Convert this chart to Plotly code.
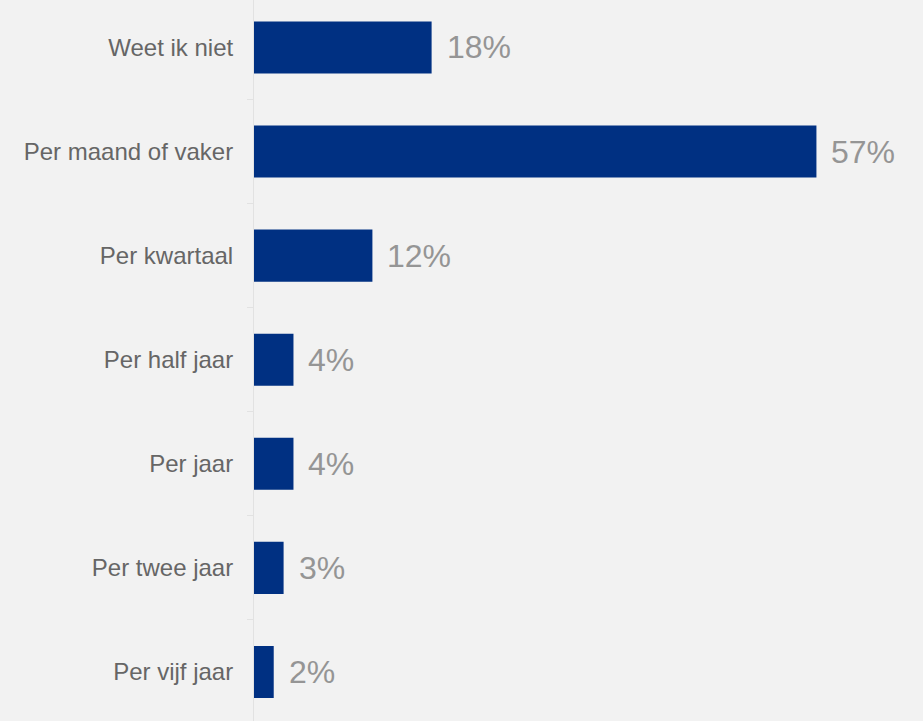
import plotly.graph_objects as go

categories = ["Weet ik niet", "Per maand of vaker", "Per kwartaal", "Per half jaar",
              "Per jaar", "Per twee jaar", "Per vijf jaar"]
values = [18, 57, 12, 4, 4, 3, 2]
value_labels = ["18%", "57%", "12%", "4%", "4%", "3%", "2%"]

BG = "#f2f2f2"
BAR = "#003082"
FONT = "Arial, Liberation Sans, sans-serif"

fig = go.Figure()
fig.add_trace(go.Bar(
    x=values, y=categories, orientation="h",
    marker=dict(color=BAR, line=dict(width=0)),
    width=0.5, hoverinfo="skip",
))

for c, v, t in zip(categories, values, value_labels):
    fig.add_annotation(x=v, y=c, text=t, showarrow=False, xanchor="left",
                       yanchor="middle", xshift=13,
                       font=dict(family=FONT, size=32, color="#959595"))

fig.update_layout(
    width=923, height=721,
    margin=dict(l=254, r=0, t=0, b=0),
    paper_bgcolor=BG, plot_bgcolor=BG,
    showlegend=False,
    xaxis=dict(range=[0, 67.8], visible=False, fixedrange=True),
    yaxis=dict(
        type="category", categoryorder="array", categoryarray=categories,
        range=[6.471, -0.456],
        showline=True, linecolor="#e2e2e2", linewidth=1,
        tickson="boundaries", ticks="outside", ticklen=6, tickcolor="#e2e2e2",
        showgrid=False, zeroline=False,
        tickfont=dict(family=FONT, size=24, color="#666666"),
        ticklabelstandoff=15,
    ),
)

fig.write_html("out.html", config={"displayModeBar": False},
               post_script="document.body.style.margin='0';document.body.style.padding='0';document.body.style.background='#f2f2f2';")
